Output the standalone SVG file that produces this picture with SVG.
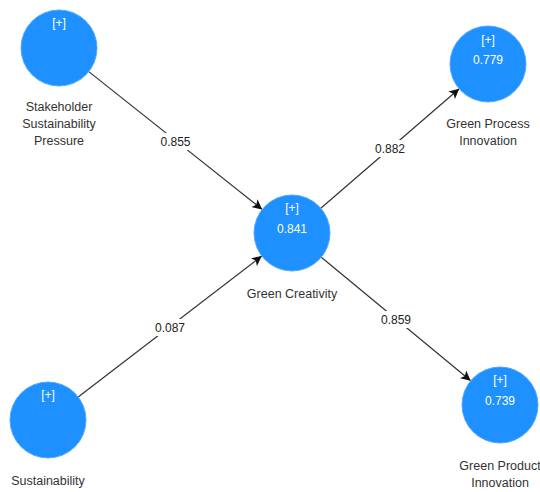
<svg xmlns="http://www.w3.org/2000/svg" width="540" height="492" viewBox="0 0 540 492">
<style>
.node{fill:#1E90FF;stroke:#4FA8FF;stroke-width:1}
.in{font-family:"Liberation Sans",Arial,sans-serif;font-size:12px;fill:#FFFFFF;text-anchor:middle}
.lbl{font-family:"Liberation Sans",Arial,sans-serif;font-size:12.5px;fill:#333333;text-anchor:middle}
.edge{stroke:#333333;stroke-width:1.2;fill:none;marker-end:url(#arr)}
.elbl{font-family:"Liberation Sans",Arial,sans-serif;font-size:12px;fill:#222222;text-anchor:middle}
.bg{fill:#FFFFFF}
</style>
<defs>
<marker id="arr" viewBox="0 0 10 10" refX="10" refY="5" markerWidth="10" markerHeight="10" markerUnits="userSpaceOnUse" orient="auto">
<path d="M0,0 L10,5 L0,10 L2.5,5 z" fill="#111111"/>
</marker>
</defs>
<rect width="540" height="492" fill="#FFFFFF"/>
<g id="connectors">
<line class="edge" x1="88.8" y1="71.6" x2="262.2" y2="209.4"/>
<line class="edge" x1="78.2" y1="396.9" x2="261.8" y2="256.1"/>
<line class="edge" x1="320.8" y1="208.2" x2="459.2" y2="88.8"/>
<line class="edge" x1="321.3" y1="257.2" x2="470.7" y2="380.8"/>
<rect class="bg" x="158" y="133" width="35" height="17"/>
<text class="elbl" x="175.5" y="146">0.855</text>
<rect class="bg" x="152" y="319" width="35" height="17"/>
<text class="elbl" x="170" y="332">0.087</text>
<rect class="bg" x="373" y="140" width="35" height="17"/>
<text class="elbl" x="390" y="153">0.882</text>
<rect class="bg" x="379" y="311" width="35" height="17"/>
<text class="elbl" x="396" y="324">0.859</text>
</g>
<g id="ssp">
<circle class="node" cx="59" cy="48" r="38"/>
<text class="in" x="59" y="27">[+]</text>
<text class="lbl" x="59" y="111">Stakeholder</text>
<text class="lbl" x="59" y="128">Sustainability</text>
<text class="lbl" x="59" y="145">Pressure</text>
</g>
<g id="sust">
<circle class="node" cx="48" cy="420" r="38"/>
<text class="in" x="48" y="399">[+]</text>
<text class="lbl" x="48" y="485">Sustainability</text>
</g>
<g id="gc">
<circle class="node" cx="292" cy="233" r="38"/>
<text class="in" x="292" y="212">[+]</text>
<text class="in" x="292" y="233">0.841</text>
<text class="lbl" x="292" y="298">Green Creativity</text>
</g>
<g id="gpci">
<circle class="node" cx="488" cy="64" r="38"/>
<text class="in" x="488" y="44">[+]</text>
<text class="in" x="488" y="64">0.779</text>
<text class="lbl" x="488" y="128">Green Process</text>
<text class="lbl" x="488" y="145">Innovation</text>
</g>
<g id="gpdi">
<circle class="node" cx="500" cy="405" r="38"/>
<text class="in" x="500" y="384">[+]</text>
<text class="in" x="500" y="405">0.739</text>
<text class="lbl" x="500" y="470">Green Product</text>
<text class="lbl" x="500" y="487">Innovation</text>
</g>
</svg>
